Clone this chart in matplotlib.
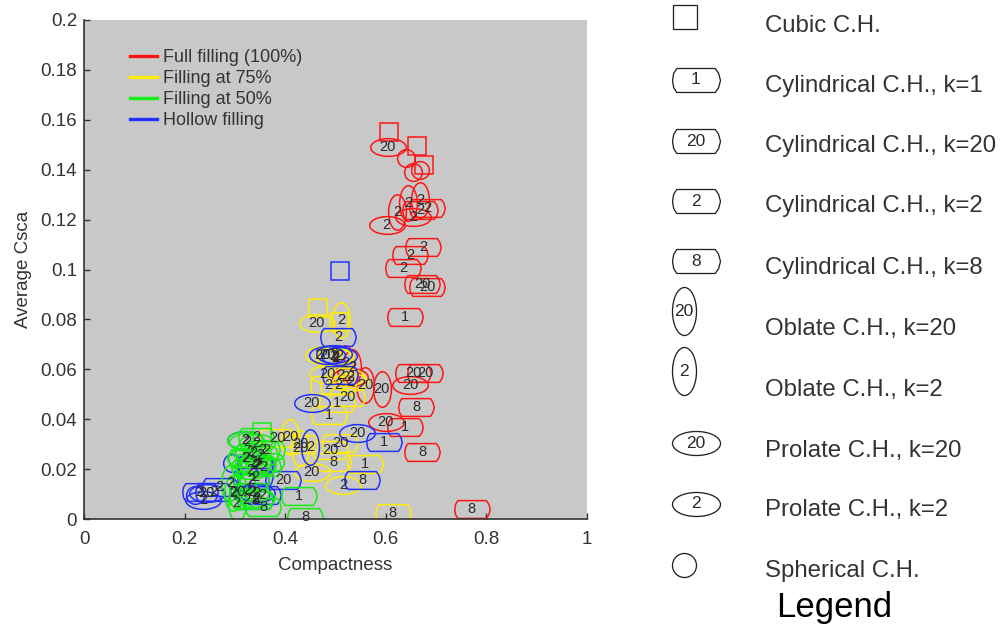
import matplotlib
matplotlib.use("Agg")
import matplotlib.pyplot as plt
from matplotlib.path import Path
from matplotlib.transforms import Affine2D

plt.rcParams['font.family'] = ['Liberation Sans', 'DejaVu Sans']

# values
red_x = [.606, .662, .676, .604, .640, .655, .668, .668, .644, .602, .622, .654, .668, .682, .674,
         .648, .634, .672, .682, .638, .654, .678, .648, .592, .559, .533, .519, .529, .600, .638,
         .660, .672, .771]
red_y = [.155, .1495, .142, .149, .1447, .139, .140, .128, .1266, .118, .123, .121, .124, .1247, .109,
         .106, .1006, .094, .093, .081, .0585, .0585, .0537, .052, .0537, .061, .0625, .057, .039, .037,
         .045, .027, .004]
red_shape = ['cube', 'cube', 'cube', 'pro20', 'sphere', 'sphere', 'sphere', 'obl2', 'obl2', 'pro2', 'obl2',
             'pro2', 'cyl2', 'cyl2', 'cyl2', 'cyl2', 'cyl2', 'cyl20', 'cyl20', 'cyl1', 'cyl20', 'cyl20',
             'pro20', 'obl20', 'obl20', 'obl2', 'obl2', 'pro2', 'pro20', 'cyl1', 'cyl8', 'cyl8', 'cyl8']

yellow_x = [.465, .463, .507, .511, .475, .499, .483, .520, .485, .523, .503, .487, .453, .515, .495,
            .559, .614, .489, .509, .430, .410, .384, .430, .495, .500, .505, .529]
yellow_y = [.0845, .0785, .079, .0797, .0657, .065, .058, .057, .0537, .049, .0465, .0417, .0188, .0136,
            .0228, .022, .0024, .0277, .0305, .0285, .033, .0325, .0300, .0655, .0645, .0537, .055]
yellow_shape = ['cube', 'pro20', 'cube', 'obl2', 'pro20', 'pro2', 'pro20', 'pro2', 'cyl2', 'cyl20', 'cyl1',
                'cyl1', 'pro20', 'pro2', 'cyl8', 'cyl1', 'cyl8', 'cyl20', 'cyl20', 'obl20', 'obl20',
                'cyl20', 'cyl20', 'pro2', 'cyl2', 'cyl2', 'pro2']

blue_x = [.509, .505, .483, .507, .509, .453, .543, .596, .449, .553, .396, .344, .340, .320, .333,
          .343, .355, .230, .244, .257, .2206, .2373, .270, .497, .294, .340, .354, .340, .334]
blue_y = [.0994, .073, .0657, .0653, .0577, .0465, .0345, .031, .029, .0156, .0156, .0216, .0216, .0316,
          .0156, .0103, .0097, .011, .0103, .011, .0097, .0076, .0129, .066, .0224, .0168, .0224, .0076, .0108]
blue_shape = ['cube', 'cyl2', 'pro20', 'pro2', 'cyl2', 'pro20', 'pro20', 'cyl1', 'obl2', 'cyl8', 'cyl20',
              'cyl2', 'cyl2', 'pro2', 'cyl2', 'pro2', 'cyl2', 'cyl2', 'pro20', 'cyl2', 'sphere', 'pro2', 'cyl2',
              'pro2', 'sphere', 'cyl2', 'sphere', 'cyl8', 'cyl2']

green_x = [.354, .427, .440, .356, .320, .343, .363, .380, .343, .323, .350, .330, .356, .310, .290,
           .297, .3035, .333, .343, .333, .323, .324, .342, .336, .320, .354, .336, .346, .330, .324,
           .340, .306]
green_y = [.0349, .0092, .0008, .0048, .0316, .0303, .0277, .023, .0216, .0243, .0257, .027, .021, .021,
           .0143, .0103, .0063, .0156, .0083, .011, .0076, .0309, .0329, .0265, .0244, .0277, .0224, .0216,
           .0196, .0116, .0076, .0108]
green_shape = ['cube', 'cyl1', 'cyl8', 'cyl8', 'pro2', 'pro2', 'cyl2', 'sphere', 'cyl2', 'cyl2', 'cyl2', 'pro2',
               'cyl2', 'sphere', 'obl2', 'obl2', 'obl2', 'cyl2', 'pro2', 'cyl2', 'pro2', 'pro2', 'cyl2', 'cyl2',
               'pro2', 'cyl2', 'cyl2', 'cyl2', 'pro2', 'obl2', 'cyl2', 'obl20']

filling_names = ['Full filling (100%)', 'Filling at 75%', 'Filling at 50%', 'Hollow filling']
filling_colors = ['#ff1414', '#ffee00', '#14ee14', '#2030ff']

key_shape = ['cube', 'cyl1', 'cyl20', 'cyl2', 'cyl8', 'obl20', 'obl2', 'pro20', 'pro2', 'sphere']
key_text = ['Cubic C.H.', 'Cylindrical C.H., k=1', 'Cylindrical C.H., k=20', 'Cylindrical C.H., k=2',
            'Cylindrical C.H., k=8', 'Oblate C.H., k=20', 'Oblate C.H., k=2', 'Prolate C.H., k=20',
            'Prolate C.H., k=2', 'Spherical C.H.']

px = 72 / 100  # one pixel in points

can = Path([(-.82, .5), (.78, .5), (.92, .3), (1, 0), (.92, -.3), (.78, -.5), (-.82, -.5),
            (-.95, -.3), (-1, 0), (-.95, .3), (-.82, .5)], closed=True)
wide = Path.unit_circle().transformed(Affine2D().scale(1, .5))
tall = Path.unit_circle().transformed(Affine2D().scale(.5, 1))
round_ = Path.unit_circle()

# shape code -> marker, size, number printed inside
shapes = {
    'cube': ('s', 24, ''),
    'sphere': (round_, 24, ''),
    'cyl1': (can, 48, '1'),
    'cyl2': (can, 48, '2'),
    'cyl8': (can, 48, '8'),
    'cyl20': (can, 48, '20'),
    'pro2': (wide, 48, '2'),
    'pro20': (wide, 48, '20'),
    'obl2': (tall, 48, '2'),
    'obl20': (tall, 48, '20'),
}


def draw_mark(ax, x, y, shape, color, scale=1.0, lw=1.3, fs=12.5):
    marker, size, label = shapes[shape]
    ax.plot([x], [y], ls='none', marker=marker, ms=size * scale * px, mfc='none', mec=color, mew=lw * px)
    if label:
        ax.text(x, y, label, fontsize=fs, color='#2a2a2a', ha='center', va='center', clip_on=False)


fig = plt.figure(figsize=(10, 6.25), dpi=100)
ax = fig.add_axes([.084, 1 - 519 / 625, .503, 499 / 625])
ax.set_facecolor('#c8c8c8')

series = [(red_x, red_y, red_shape, filling_colors[0]),
          (yellow_x, yellow_y, yellow_shape, filling_colors[1]),
          (blue_x, blue_y, blue_shape, filling_colors[3]),
          (green_x, green_y, green_shape, filling_colors[2])]
for xs, ys, kinds, col in series:
    for x, y, kind in zip(xs, ys, kinds):
        draw_mark(ax, x, y, kind, col, scale=.74, lw=1.5, fs=10.5)

ax.set_xlim(0, 1)
ax.set_ylim(0, .2)
ax.set_xticks([0, .2, .4, .6, .8, 1])
ax.set_xticklabels(['0', '0.2', '0.4', '0.6', '0.8', '1'])
ax.set_yticks([0, .02, .04, .06, .08, .1, .12, .14, .16, .18, .2])
ax.set_yticklabels(['0', '0.02', '0.04', '0.06', '0.08', '0.1', '0.12', '0.14', '0.16', '0.18', '0.2'])
ax.tick_params(direction='in', length=4, width=1, color='#333333', labelsize=13.5, labelcolor='#333333', pad=5)
ax.tick_params(axis='x', pad=9)
ax.spines['top'].set_visible(False)
ax.spines['right'].set_visible(False)
for side in ['left', 'bottom']:
    ax.spines[side].set_color('#333333')
    ax.spines[side].set_linewidth(1.2)
ax.set_xlabel('Compactness', fontsize=13.5, color='#333333', labelpad=6)
ax.set_ylabel('Average Csca', fontsize=13.5, color='#333333', labelpad=6)

handles = [plt.Line2D([], [], color=c, lw=2.4) for c in filling_colors]
ax.legend(handles, filling_names, loc='upper left', bbox_to_anchor=(.0915, .942), frameon=False, fontsize=13,
          labelcolor='#333333', handlelength=1.5, handletextpad=.33, labelspacing=.22, borderpad=0, borderaxespad=0)

# shape key on the right, in figure pixels
key = fig.add_axes([0, 0, 1, 1])
key.set_xlim(0, 1000)
key.set_ylim(625, 0)
key.axis('off')
key_mark_x = [684.5, 696, 696, 696, 696, 684, 684, 696, 696, 684]
key_mark_y = [17, 80, 141, 201, 261, 311, 371, 443, 504, 565]
key_text_y = [26, 86, 146, 206, 268, 329, 390, 451, 510, 571]
for kind, mx, my, ty, name in zip(key_shape, key_mark_x, key_mark_y, key_text_y, key_text):
    draw_mark(key, mx, my, kind, '#222222')
    key.text(765, ty, name, fontsize=17.3, color='#333333', ha='left', va='center')
key.text(776, 608, 'Legend', fontsize=25, color='black', ha='left', va='center')

fig.savefig('out.png', dpi=100)
